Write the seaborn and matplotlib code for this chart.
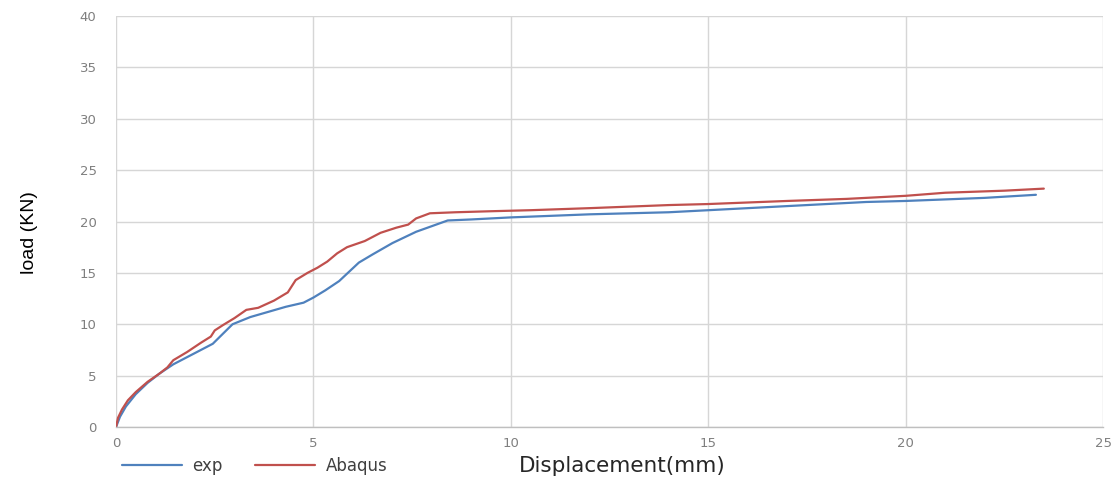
import numpy as np
import pandas as pd
import matplotlib
matplotlib.use("Agg")
import matplotlib.pyplot as plt
import seaborn as sns

# Load-displacement curves
exp_disp = [0, 0.1, 0.25, 0.5, 0.8, 1.1, 1.45, 2.0, 2.45, 2.95, 3.4, 3.85, 4.3, 4.75,
            5.0, 5.3, 5.65, 6.15, 6.5, 7.0, 7.6, 8.4, 9.0, 10, 12, 14, 15, 17, 19, 20,
            22, 23.3]
exp_load = [0, 1.0, 2.0, 3.2, 4.3, 5.2, 6.1, 7.2, 8.1, 10.0, 10.7, 11.2, 11.7, 12.1,
            12.6, 13.3, 14.2, 16.0, 16.8, 17.9, 19.0, 20.1, 20.2, 20.4, 20.7, 20.9,
            21.1, 21.5, 21.9, 22.0, 22.3, 22.6]

abq_disp = [0, 0.05, 0.15, 0.3, 0.5, 0.8, 1.1, 1.3, 1.45, 1.8, 2.15, 2.4, 2.5, 2.7,
            3.0, 3.3, 3.6, 4.0, 4.35, 4.55, 4.85, 5.1, 5.35, 5.6, 5.85, 6.3, 6.7, 7.1,
            7.4, 7.6, 7.95, 8.6, 9.5, 10.5, 12, 14, 15, 17, 18.5, 20, 21, 22.5, 23.5]
abq_load = [0, 0.9, 1.7, 2.6, 3.4, 4.4, 5.2, 5.8, 6.5, 7.3, 8.2, 8.8, 9.4, 9.9,
            10.6, 11.4, 11.6, 12.3, 13.1, 14.3, 15.0, 15.5, 16.1, 16.9, 17.5, 18.1,
            18.9, 19.4, 19.7, 20.3, 20.8, 20.9, 21.0, 21.1, 21.3, 21.6, 21.7, 22.0,
            22.2, 22.5, 22.8, 23.0, 23.2]

series_names = ["exp", "Abaqus"]
x_ticks = [0, 5, 10, 15, 20, 25]
y_ticks = [0, 5, 10, 15, 20, 25, 30, 35, 40]

df = pd.concat([
    pd.DataFrame({"disp": exp_disp, "load": exp_load, "series": series_names[0]}),
    pd.DataFrame({"disp": abq_disp, "load": abq_load, "series": series_names[1]}),
], ignore_index=True)

sns.set_theme(style="white")
plt.rcParams["font.family"] = ["DejaVu Sans"]

fig = plt.figure(figsize=(11.17, 4.78), dpi=100)
ax = fig.add_axes([0.1039, 0.1067, 0.8836, 0.8598])

palette = {"exp": "#4F81BD", "Abaqus": "#C0504D"}
sns.lineplot(data=df, x="disp", y="load", hue="series", palette=palette,
             sort=False, estimator=None, linewidth=1.6, ax=ax, legend=True)

ax.set_xlim(0, 25)
ax.set_ylim(0, 40)
ax.set_xticks(x_ticks)
ax.set_yticks(y_ticks)
ax.grid(True, color="#d6d6d6", linewidth=1.0)
ax.set_axisbelow(True)
for side in ["top", "right", "left"]:
    ax.spines[side].set_visible(False)
ax.spines["bottom"].set_color("#bfbfbf")
ax.spines["bottom"].set_linewidth(1.0)
ax.tick_params(axis="x", colors="#7f7f7f", labelsize=9.5, length=4, width=0.8,
               direction="out", pad=3)
ax.tick_params(axis="y", colors="#7f7f7f", labelsize=9.5, length=0, pad=14)
ax.tick_params(axis="x", color="#bfbfbf")

ax.set_xlabel("")
ax.set_ylabel("load (KN)", fontsize=14, color="#000000", family="Liberation Sans")
ax.yaxis.set_label_coords(-0.079, 0.474)

handles, labels = ax.get_legend_handles_labels()
ax.get_legend().remove()
fig.legend(handles, labels, loc="center left", bbox_to_anchor=(0.109, 0.025),
           ncol=2, frameon=False, fontsize=12, handlelength=3.6, borderpad=0,
           borderaxespad=0, columnspacing=2.0, handletextpad=0.6,
           labelcolor="#404040")

fig.text(0.557, 0.025, "Displacement(mm)", fontsize=15.5, color="#262626",
         ha="center", va="center")

fig.savefig("out.png", dpi=100)
